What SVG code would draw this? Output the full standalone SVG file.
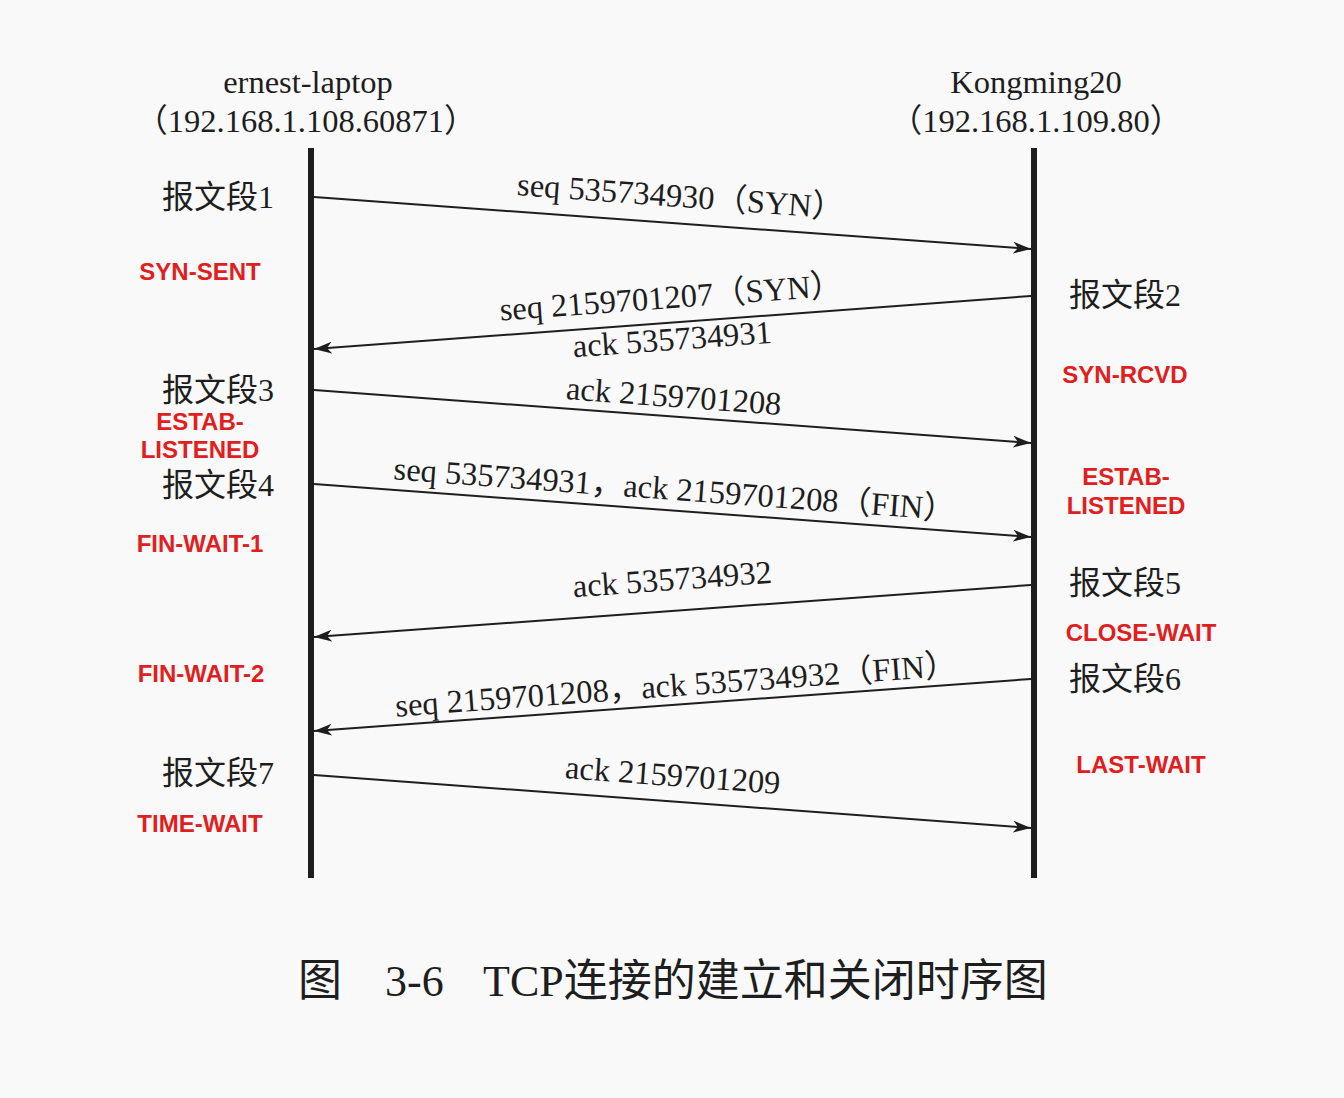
<svg xmlns="http://www.w3.org/2000/svg" width="1344" height="1098" viewBox="0 0 1344 1098">
<style>
.t{font-family:"Liberation Serif","Noto Sans CJK SC",serif;fill:#1e1e1e}
.h{font-size:32.5px;text-anchor:middle}
.m{font-size:32.5px;text-anchor:middle}
.s{font-size:32px;text-anchor:middle}
.r{font-family:"Liberation Sans",Arial,sans-serif;font-weight:bold;font-size:24px;fill:#e02020;text-anchor:middle}
.life{stroke:#1e1e1e;stroke-width:6}
.msg{stroke:#1e1e1e;stroke-width:2;fill:none;marker-end:url(#ah)}
.c{font-size:44px}
</style>
<defs>
<marker id="ah" markerWidth="20" markerHeight="12" refX="18" refY="6" orient="auto" markerUnits="userSpaceOnUse">
<path d="M0,0 L18,6 L0,12 L5,6 Z" fill="#1e1e1e"/>
</marker>
</defs>
<rect width="1344" height="1098" fill="#f9f9f9"/>
<g id="node-client">
<text class="t h" x="308" y="93">ernest-laptop</text>
<text class="t h" x="306" y="132">（192.168.1.108.60871）</text>
<line class="life" x1="311" y1="148" x2="311" y2="878"/>
</g>
<g id="node-server">
<text class="t h" x="1036" y="93">Kongming20</text>
<text class="t h" x="1036" y="132">（192.168.1.109.80）</text>
<line class="life" x1="1034" y1="148" x2="1034" y2="878"/>
</g>
<g id="segment-labels">
<text class="t s" x="218" y="208">报文段1</text>
<text class="t s" x="1125" y="306">报文段2</text>
<text class="t s" x="218" y="401">报文段3</text>
<text class="t s" x="218" y="496">报文段4</text>
<text class="t s" x="1125" y="594">报文段5</text>
<text class="t s" x="1125" y="690">报文段6</text>
<text class="t s" x="218" y="784">报文段7</text>
</g>
<g id="states">
<text class="r" x="200" y="280">SYN-SENT</text>
<text class="r" x="1125" y="383">SYN-RCVD</text>
<text class="r" x="200" y="430">ESTAB-</text>
<text class="r" x="200" y="458">LISTENED</text>
<text class="r" x="200" y="552">FIN-WAIT-1</text>
<text class="r" x="1126" y="485">ESTAB-</text>
<text class="r" x="1126" y="514">LISTENED</text>
<text class="r" x="1141" y="641">CLOSE-WAIT</text>
<text class="r" x="201" y="682">FIN-WAIT-2</text>
<text class="r" x="1141" y="773">LAST-WAIT</text>
<text class="r" x="200" y="832">TIME-WAIT</text>
</g>
<g id="connectors">
<line class="msg" x1="314" y1="197" x2="1031" y2="249"/>
<line class="msg" x1="1031" y1="296" x2="314" y2="349"/>
<line class="msg" x1="314" y1="390" x2="1031" y2="443"/>
<line class="msg" x1="314" y1="484" x2="1031" y2="537"/>
<line class="msg" x1="1031" y1="585" x2="314" y2="637"/>
<line class="msg" x1="1031" y1="679" x2="314" y2="731"/>
<line class="msg" x1="314" y1="775" x2="1031" y2="828"/>
</g>
<g id="connector-labels">
<text class="t m" x="680" y="207" transform="rotate(4.2 680 207)">seq 535734930（SYN）</text>
<text class="t m" x="672" y="308" transform="rotate(-4.2 672 308)">seq 2159701207（SYN）</text>
<text class="t m" x="673" y="350" transform="rotate(-4.2 673 350)">ack 535734931</text>
<text class="t m" x="673" y="407" transform="rotate(4.2 673 407)">ack 2159701208</text>
<text class="t m" x="674" y="500" transform="rotate(4.2 674 500)">seq 535734931，ack 2159701208（FIN）</text>
<text class="t m" x="673" y="590" transform="rotate(-4.2 673 590)">ack 535734932</text>
<text class="t m" x="677" y="696" transform="rotate(-4.2 677 696)">seq 2159701208，ack 535734932（FIN）</text>
<text class="t m" x="672" y="786" transform="rotate(4.2 672 786)">ack 2159701209</text>
</g>
<g id="caption">
<text class="t c" x="298" y="996">图</text>
<text class="t c" x="385" y="996">3-6</text>
<text class="t c" x="483" y="996">TCP连接的建立和关闭时序图</text>
</g>
</svg>
